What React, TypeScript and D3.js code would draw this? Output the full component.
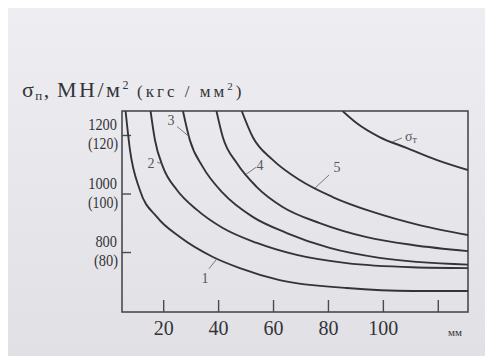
import React, { useEffect, useRef } from 'react';
import * as d3 from 'd3';

// axis ticks: thickness in mm, strength in MN/m2 (kgf/mm2)
const xTicks = [20, 40, 60, 80, 100, 120];
const xTickLabels = ['20', '40', '60', '80', '100', ''];
const xUnit = 'мм';
const yTicks = [1200, 1000, 800];
const yLabelsMPa = ['1200', '1000', '800'];
const yLabelsKgf = ['(120)', '(100)', '(80)'];

// curves: [thickness, stress]
const curve1: [number, number][] = [
  [6.3, 1282], [7.9, 1149], [11.5, 1012], [17.7, 920], [26.1, 851], [38.1, 783],
  [47.9, 745], [62.4, 704], [86.8, 677], [110.8, 667], [131, 667],
];
const curve2: [number, number][] = [
  [15.4, 1282], [17.0, 1183], [19.9, 1091], [25.0, 1012], [32.3, 944], [41.7, 882],
  [54.1, 831], [68.6, 790], [86.8, 762], [110.8, 748], [131, 745],
];
const curve3: [number, number][] = [
  [27.2, 1282], [29.7, 1183], [34.4, 1091], [41.7, 1002], [52.6, 920], [65.0, 865],
  [80.6, 814], [98.8, 780], [131, 757],
];
const curve4: [number, number][] = [
  [39.4, 1282], [41.7, 1193], [46.8, 1104], [54.1, 1022], [63.5, 954], [77.0, 899],
  [94.1, 851], [110.8, 824], [131, 803],
];
const curve5: [number, number][] = [
  [48.6, 1282], [52.6, 1193], [59.9, 1115], [69.7, 1046], [81.7, 988], [96.3, 937],
  [113.3, 892], [131, 858],
];
const curveYield: [number, number][] = [
  [85.3, 1282], [90.4, 1241], [98.8, 1193], [108.6, 1156], [119.5, 1115], [131, 1080],
];
const curveNames = ['1', '2', '3', '4', '5', 'σт'];

// where each name sits: x on its curve, leader end offset, text offset (px)
const labelLayout = [
  { at: 39.6, lx: -8, ly: 10, tx: -12, ty: 24, anchor: 'middle' },
  { at: 19.6, lx: -5, ly: -2, tx: -11, ty: 4, anchor: 'middle' },
  { at: 29.4, lx: -12, ly: -10, tx: -18, ty: -11, anchor: 'middle' },
  { at: 50.2, lx: 10, ly: -7, tx: 14, ty: -4, anchor: 'middle' },
  { at: 75.3, lx: 14, ly: -13, tx: 22, ty: -16, anchor: 'middle' },
  { at: 103.3, lx: 10, ly: -4, tx: 13, ty: -1, anchor: 'start' },
];

const W = 477;
const H = 348;
const ink = '#343438';
const serif = '"Liberation Serif", "DejaVu Serif", serif';

function yAt(points: [number, number][], x: number) {
  const i = Math.max(1, Math.min(points.length - 1, d3.bisector((p: [number, number]) => p[0]).left(points, x)));
  const [x0, y0] = points[i - 1];
  const [x1, y1] = points[i];
  return y0 + ((x - x0) / (x1 - x0)) * (y1 - y0);
}

export default function App() {
  const ref = useRef<SVGSVGElement>(null);

  useEffect(() => {
    const svg = d3.select(ref.current);
    svg.selectAll('*').remove();

    const left = 122, right = 468, top = 111, bottom = 312;
    const x = d3.scaleLinear().domain([5, 131]).range([left, right]);
    const y = d3.scaleLinear().domain([595, 1282]).range([bottom, top]);

    const defs = svg.append('defs');
    const grad = defs.append('linearGradient').attr('id', 'paper').attr('x1', 0).attr('y1', 0).attr('x2', 0).attr('y2', 1);
    grad.append('stop').attr('offset', '0%').attr('stop-color', '#eeeef2');
    grad.append('stop').attr('offset', '100%').attr('stop-color', '#e1e1e5');
    defs.append('clipPath').attr('id', 'plot')
      .append('rect').attr('x', left).attr('y', top).attr('width', right - left).attr('height', bottom - top);

    svg.append('rect').attr('width', W).attr('height', H).attr('fill', 'url(#paper)');

    // page coordinates (the svg sits at the 8px body margin)
    const g = svg.append('g').attr('transform', 'translate(-8,-8)');

    // title, in three spaced-out pieces
    const tg = g.append('g').attr('font-family', serif).attr('fill', ink);
    const t1 = tg.append('text').attr('x', 22).attr('y', 97).attr('font-size', 22).attr('letter-spacing', 1.5);
    t1.append('tspan').text('σ');
    t1.append('tspan').attr('font-size', 13).attr('dy', 3).text('п');
    t1.append('tspan').attr('dy', -3).text(',');
    const t2 = tg.append('text').attr('x', 57).attr('y', 97).attr('font-size', 22).attr('letter-spacing', 2.5);
    t2.append('tspan').text('МН/м');
    t2.append('tspan').attr('font-size', 12).attr('dy', -8).text('2');
    const t3 = tg.append('text').attr('x', 137).attr('y', 97).attr('font-size', 17).attr('letter-spacing', 3);
    t3.append('tspan').text('(кгс / мм');
    t3.append('tspan').attr('font-size', 11).attr('dy', -7).text('2');
    t3.append('tspan').attr('dy', 7).text(')');

    // frame
    g.append('rect')
      .attr('x', left).attr('y', top).attr('width', right - left).attr('height', bottom - top)
      .attr('fill', 'none').attr('stroke', '#4a4a4e').attr('stroke-width', 1.6);

    // x axis: inward ticks
    const xAxis = g.append('g').attr('transform', `translate(0,${bottom})`)
      .call(d3.axisBottom(x).tickValues(xTicks).tickSize(-12).tickPadding(-12)
        .tickFormat((_d, i) => xTickLabels[i]));
    xAxis.select('.domain').remove();
    xAxis.selectAll('line').attr('stroke', '#4a4a4e').attr('stroke-width', 1.4);
    xAxis.selectAll('text').attr('y', 23).attr('dy', 0)
      .attr('font-family', serif).attr('font-size', 20).attr('fill', ink);
    g.append('text').attr('x', 455).attr('y', 336).attr('text-anchor', 'middle')
      .attr('font-family', serif).attr('font-size', 11).attr('fill', ink).text(xUnit);

    // y axis: inward ticks, two lines of labels
    const yAxis = g.append('g').attr('transform', `translate(${left},0)`)
      .call(d3.axisLeft(y).tickValues(yTicks).tickSize(-9).tickFormat(() => ''));
    yAxis.select('.domain').remove();
    yAxis.selectAll('line').attr('stroke', '#4a4a4e').attr('stroke-width', 1.4);

    const yl = g.append('g').attr('font-family', serif).attr('font-size', 17)
      .attr('fill', ink).attr('text-anchor', 'end');
    yTicks.forEach((v, i) => {
      yl.append('text').attr('x', 117).attr('y', y(v) - 5)
        .attr('textLength', yLabelsMPa[i].length * 7.2).attr('lengthAdjust', 'spacingAndGlyphs')
        .text(yLabelsMPa[i]);
      yl.append('text').attr('x', 118).attr('y', y(v) + 14)
        .attr('textLength', yLabelsKgf[i].length * 6).attr('lengthAdjust', 'spacingAndGlyphs')
        .text(yLabelsKgf[i]);
    });

    // curves
    const curves = [curve1, curve2, curve3, curve4, curve5, curveYield];
    const line = d3.line<[number, number]>()
      .x((d) => x(d[0])).y((d) => y(d[1]))
      .curve(d3.curveMonotoneX);
    g.append('g').attr('clip-path', 'url(#plot)')
      .selectAll('path').data(curves).enter().append('path')
      .attr('d', (d) => line(d))
      .attr('fill', 'none').attr('stroke', ink).attr('stroke-width', 1.9);

    // curve names with small leaders
    const labels = g.append('g').attr('font-family', serif).attr('fill', ink).attr('font-size', 14);
    curves.forEach((pts, i) => {
      const lay = labelLayout[i];
      const px = x(lay.at);
      const py = y(yAt(pts, lay.at));
      labels.append('line')
        .attr('x1', px).attr('y1', py).attr('x2', px + lay.lx).attr('y2', py + lay.ly)
        .attr('stroke', '#6a6a70').attr('stroke-width', 0.9);
      const t = labels.append('text').attr('x', px + lay.tx).attr('y', py + lay.ty)
        .attr('text-anchor', lay.anchor).attr('fill', '#55555a');
      if (curveNames[i].length > 1) {
        t.append('tspan').text(curveNames[i][0]);
        t.append('tspan').attr('font-size', 10).attr('dy', 2).text(curveNames[i].slice(1));
      } else {
        t.text(curveNames[i]);
      }
    });
  }, []);

  return (
    <svg ref={ref} width={W} height={H}
      style={{ position: 'absolute', left: 8, top: 8, display: 'block' }} />
  );
}
